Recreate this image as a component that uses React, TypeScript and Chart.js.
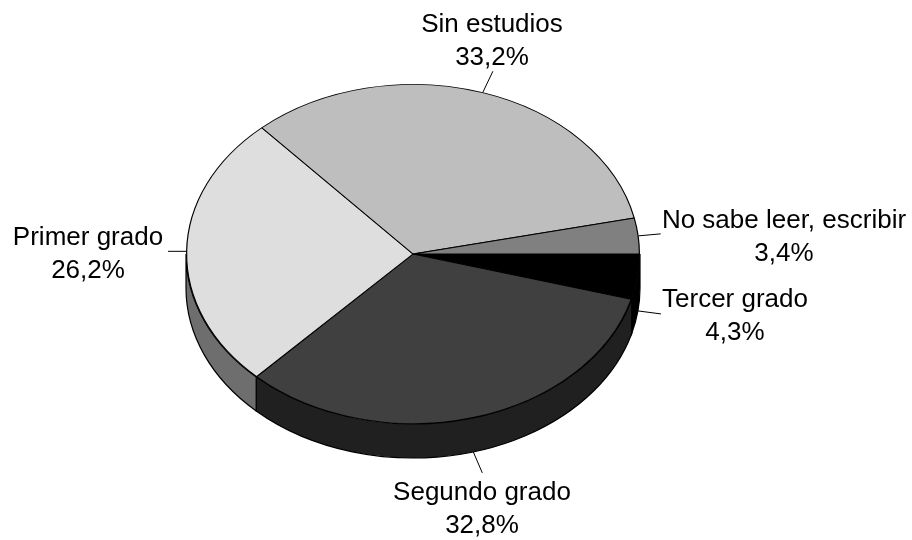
import React, { useEffect, useRef } from "react";
import { Chart, registerables } from "chart.js";

Chart.register(...registerables);

const categories = ["Tercer grado", "Segundo grado", "Primer grado", "Sin estudios", "No sabe leer, escribir"];
const percentLabels = ["4,3%", "32,8%", "26,2%", "33,2%", "3,4%"];
const values = [4.3, 32.8, 26.2, 33.2, 3.4];
const topColors = ["#000000", "#404040", "#dedede", "#bebebe", "#808080"];
const wallColors = ["#000000", "#202020", "#6e6e6e", "#8e8e8e", "#606060"];

// label layout: text centre, first baseline, leader-line end offset
const labelCenterX = [735, 482, 88, 492, 784];
const labelBaseY = [307, 500, 245, 32, 228];
const leaderDX = [23, 9, -18, 10, 22];
const leaderDY = [3, 21, 0, -21, -2];

const CX = 413;
const CY = 254;
const RX = 227;
const RY = 170;
const DEPTH = 34;
const LINE_GAP = 33;

const pie3d = {
  id: "pie3d",
  beforeDatasetsDraw(chart: any) {
    const ctx = chart.ctx;
    const arcs = chart.getDatasetMeta(0).data;
    ctx.save();
    arcs.forEach((arc: any, i: number) => {
      const a1 = Math.max(arc.startAngle, 0);
      const a2 = Math.min(arc.endAngle, Math.PI);
      if (a2 <= a1) return;
      ctx.beginPath();
      ctx.ellipse(CX, CY + DEPTH, RX, RY, 0, a1, a2);
      ctx.ellipse(CX, CY, RX, RY, 0, a2, a1, true);
      ctx.closePath();
      ctx.fillStyle = wallColors[i];
      ctx.fill();
      ctx.lineWidth = 1.2;
      ctx.strokeStyle = "#000";
      ctx.stroke();
    });
    ctx.restore();
    ctx.save();
    ctx.translate(CX, CY);
    ctx.scale(1, RY / RX);
    ctx.translate(-CX, -CY);
  },
  afterDatasetsDraw(chart: any) {
    const ctx = chart.ctx;
    ctx.restore();
    const arcs = chart.getDatasetMeta(0).data;
    ctx.save();
    ctx.font = '26px "Liberation Sans", Arial, sans-serif';
    ctx.textAlign = "center";
    ctx.textBaseline = "alphabetic";
    arcs.forEach((arc: any, i: number) => {
      const mid = (arc.startAngle + arc.endAngle) / 2;
      const sx = CX + RX * Math.cos(mid);
      const sy = CY + RY * Math.sin(mid) + (Math.sin(mid) > 0.05 ? DEPTH : 0);
      ctx.beginPath();
      ctx.moveTo(sx, sy);
      ctx.lineTo(sx + leaderDX[i], sy + leaderDY[i]);
      ctx.strokeStyle = "#000";
      ctx.lineWidth = 1;
      ctx.stroke();
      ctx.fillStyle = "#000";
      ctx.fillText(categories[i], labelCenterX[i], labelBaseY[i]);
      ctx.fillText(percentLabels[i], labelCenterX[i], labelBaseY[i] + LINE_GAP);
    });
    ctx.restore();
  },
};

export default function App() {
  const ref = useRef<HTMLCanvasElement>(null);
  useEffect(() => {
    const chart = new Chart(ref.current as HTMLCanvasElement, {
      type: "pie",
      data: {
        labels: categories,
        datasets: [
          {
            data: values,
            backgroundColor: topColors,
            borderColor: "#000",
            borderWidth: 1.2,
            borderAlign: "center",
            clip: false,
          } as any,
        ],
      },
      options: {
        animation: false,
        responsive: false,
        rotation: 90,
        layout: { padding: { left: CX - RX, right: 912 - CX - RX, top: CY - RX, bottom: 540 - CY - RX } },
        plugins: { legend: { display: false }, tooltip: { enabled: false } },
      },
      plugins: [pie3d],
    });
    return () => chart.destroy();
  }, []);
  return (
    <div style={{ position: "absolute", left: 0, top: 0, width: 912, height: 540, background: "#fff" }}>
      <canvas ref={ref} width={912} height={540} style={{ display: "block" }} />
    </div>
  );
}
